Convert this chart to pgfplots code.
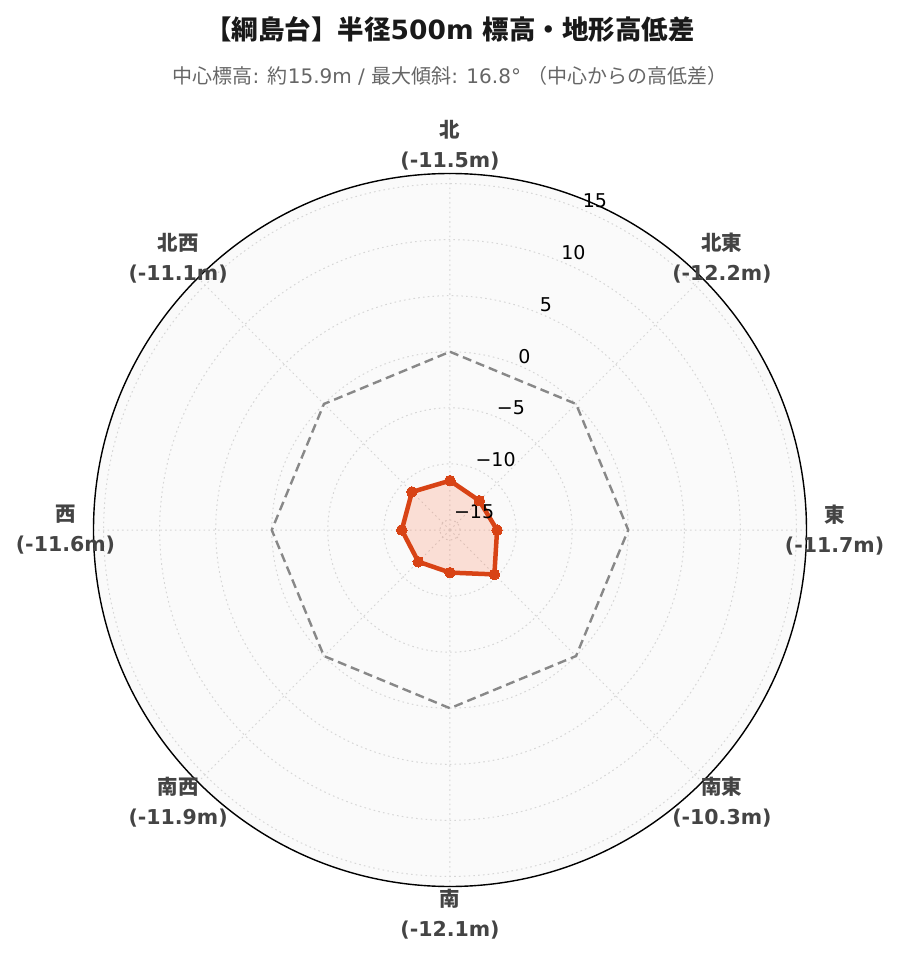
\documentclass[border=0pt]{standalone}
\usepackage{pgfplots}
\pgfplotsset{compat=1.18}
\usepackage{pgfplotstable}
\usepgfplotslibrary{polar}
\usepackage{fontspec}
\setmainfont{DejaVu Sans}
\newfontfamily\cjk{Noto Sans CJK JP}
\definecolor{bgc}{HTML}{FAFAFA}
\definecolor{gridc}{HTML}{D6D6D6}
\definecolor{redc}{HTML}{D84315}
\definecolor{fillc}{HTML}{FF5722}
\definecolor{dashc}{HTML}{888888}
\definecolor{labc}{HTML}{444444}
\definecolor{subc}{HTML}{666666}

% elevation difference from the centre (m), angle in degrees (east = 0, counter-clockwise)
\pgfplotstableread{
a v
90 -11.5
45 -12.2
0 -11.7
-45 -10.3
-90 -12.1
-135 -11.9
180 -11.6
135 -11.1
90 -11.5
}\elev
\pgfplotstableread{
a v
90 0
45 0
0 0
-45 0
-90 0
-135 0
180 0
135 0
90 0
}\zero

\begin{document}
\begin{tikzpicture}
\path[use as bounding box] (0pt,0pt) rectangle (899pt,962pt);
\begin{polaraxis}[
  at={(450pt,432pt)}, anchor=center,
  width=713pt, height=713pt, scale only axis,
  ymin=0, ymax=31.8,
  xtick={0,45,...,315}, xticklabels={},
  ytick={0.9,5.9,10.9,15.9,20.9,25.9,30.9}, yticklabels={},
  grid=major,
  major grid style={draw=gridc, line width=1pt, dash pattern=on 1.6pt off 3.2pt},
  major tick length=0pt,
  x axis line style={black, line width=1.4pt},
  y axis line style={draw=none},
  axis background/.style={fill=bgc},
  clip=false,
]
\addplot[dashc, line width=2.4pt, dash pattern=on 9pt off 5pt, no marks]
  table[x=a, y expr=\thisrow{v}+15.9] {\zero};
\addplot[redc, line width=4.5pt, line join=round, line cap=round,
  fill=fillc, fill opacity=0.17, draw opacity=1,
  mark=*, mark size=5.3pt, mark options={fill=redc, draw=redc, line width=0pt, fill opacity=1}]
  table[x=a, y expr=\thisrow{v}+15.9] {\elev};

% radial tick labels (axis at 67.5 degrees)
\tikzset{rl/.style={anchor=west, inner sep=0pt, yshift=9pt, font=\fontsize{19}{19}\selectfont}}
\node[rl] at (axis cs:67.5,30.9) {15};
\node[rl] at (axis cs:67.5,25.9) {10};
\node[rl] at (axis cs:67.5,20.9) {5};
\node[rl] at (axis cs:67.5,15.9) {0};
\node[rl] at (axis cs:67.5,10.9) {−5};
\node[rl] at (axis cs:67.5,5.9) {−10};
\node[rl] at (axis cs:67.5,0.9) {−15};
% direction labels
\tikzset{dl/.style={align=center, text=labc, inner sep=0pt, font=\fontsize{20.5}{30}\selectfont\bfseries}}
\node[dl] at (axis cs:90,34.3) {{\cjk 北}\\(-11.5m)};
\node[dl] at (axis cs:45,34.3) {{\cjk 北東}\\(-12.2m)};
\node[dl] at (axis cs:0,34.3) {{\cjk 東}\\(-11.7m)};
\node[dl] at (axis cs:-45,34.3) {{\cjk 南東}\\(-10.3m)};
\node[dl] at (axis cs:-90,34.3) {{\cjk 南}\\(-12.1m)};
\node[dl] at (axis cs:-135,34.3) {{\cjk 南西}\\(-11.9m)};
\node[dl] at (axis cs:180,34.3) {{\cjk 西}\\(-11.6m)};
\node[dl] at (axis cs:135,34.3) {{\cjk 北西}\\(-11.1m)};
\end{polaraxis}
\node[font=\fontsize{26.5}{26.5}\selectfont\bfseries, text=black!90] at (450pt,933pt)
  {{\cjk 【綱島台】半径}500m {\cjk 標高・地形高低差}};
\node[font=\fontsize{20}{20}\selectfont, text=subc] at (450pt,886pt)
  {{\cjk 中心標高}: {\cjk 約}15.9m / {\cjk 最大傾斜}: 16.8° {\cjk （中心からの高低差）}};
\end{tikzpicture}
\end{document}
